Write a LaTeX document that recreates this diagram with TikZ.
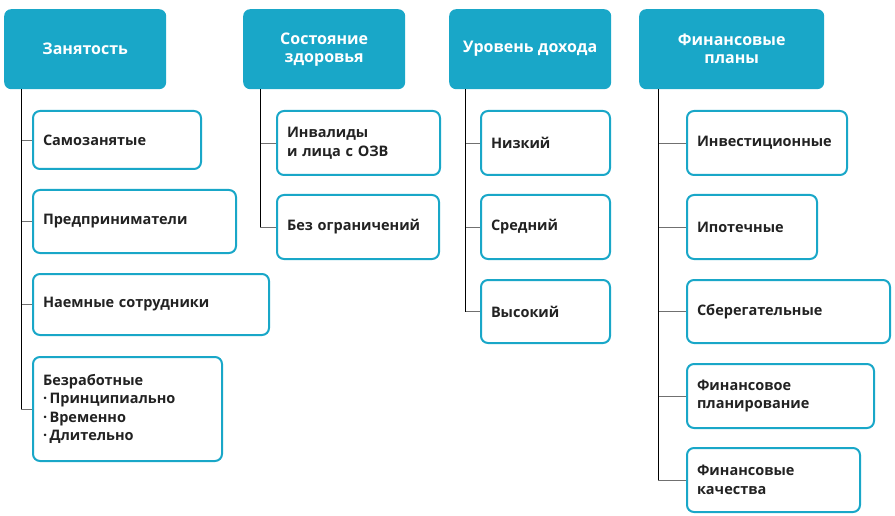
\documentclass[tikz,border=0pt]{standalone}
\usepackage{fontspec}
\setmainfont{Open Sans}
\definecolor{teal1}{HTML}{19A7C8}
\definecolor{txt}{HTML}{222222}
\definecolor{conn}{HTML}{707070}
\begin{document}
\begin{tikzpicture}[x=1pt,y=-1pt,
  hbox/.style={fill=teal1, rounded corners=7pt, anchor=north west, minimum height=80pt,
    text=white, font=\bfseries\fontsize{16}{18}\selectfont, align=center, inner sep=0pt},
  cbox/.style={draw=teal1, line width=2pt, fill=white, rounded corners=7pt, anchor=north west,
    text=txt, font=\bfseries\fontsize{14.5}{18.5}\selectfont, align=left, inner xsep=9pt, inner ysep=0pt},
  vline/.style={draw=black, line width=0.9pt},
  hline/.style={draw=conn, line width=0.9pt}]
\useasboundingbox (0,0) rectangle (895,516);
% headers
\node[hbox, minimum width=162pt] (h1) at (4,9) {Занятость};
\node[hbox, minimum width=162pt] (h2) at (243,9) {Состояние\\здоровья};
\node[hbox, minimum width=162pt] (h3) at (449,9) {Уровень дохода};
\node[hbox, minimum width=185pt] (h4) at (639,9) {Финансовые\\планы};
% column 1
\node[cbox, minimum width=168pt, minimum height=58pt, text width=148pt] (c11) at (32,110) {Самозанятые};
\node[cbox, minimum width=203pt, minimum height=63pt, text width=183pt] (c12) at (32,189) {Предприниматели};
\node[cbox, minimum width=236pt, minimum height=61pt, text width=216pt] (c13) at (32,273) {Наемные сотрудники};
\node[cbox, minimum width=189pt, minimum height=104pt, text width=169pt] (c14) at (32,356) {Безработные\\·\,Принципиально\\·\,Временно\\·\,Длительно};
% column 2
\node[cbox, minimum width=163pt, minimum height=64pt, text width=143pt] (c21) at (276,110) {Инвалиды\\и лица с ОЗВ};
\node[cbox, minimum width=162pt, minimum height=64pt, text width=142pt] (c22) at (276,194) {Без ограничений};
% column 3
\node[cbox, minimum width=129pt, minimum height=64pt, text width=109pt] (c31) at (480,110) {Низкий};
\node[cbox, minimum width=129pt, minimum height=64pt, text width=109pt] (c32) at (480,194) {Средний};
\node[cbox, minimum width=129pt, minimum height=63pt, text width=109pt] (c33) at (480,279) {Высокий};
% column 4
\node[cbox, minimum width=160pt, minimum height=64pt, text width=140pt] (c41) at (686,110) {Инвестиционные};
\node[cbox, minimum width=130pt, minimum height=64pt, text width=110pt] (c42) at (686,194) {Ипотечные};
\node[cbox, minimum width=203pt, minimum height=63pt, text width=183pt] (c43) at (686,279) {Сберегательные};
\node[cbox, minimum width=187pt, minimum height=64pt, text width=167pt] (c44) at (686,363) {Финансовое\\планирование};
\node[cbox, minimum width=173pt, minimum height=64pt, text width=153pt] (c45) at (686,447) {Финансовые\\качества};
% connector trunks
\coordinate (t1) at ([xshift=17pt]h1.south west);
\coordinate (t2) at ([xshift=17pt]h2.south west);
\coordinate (t3) at ([xshift=16pt]h3.south west);
\coordinate (t4) at ([xshift=19pt]h4.south west);
\foreach \c in {c11,c12,c13,c14} \draw[hline] (t1 |- \c.west) -- (\c.west);
\foreach \c in {c21,c22} \draw[hline] (t2 |- \c.west) -- (\c.west);
\foreach \c in {c31,c32,c33} \draw[hline] (t3 |- \c.west) -- (\c.west);
\foreach \c in {c41,c42,c43,c44,c45} \draw[hline] (t4 |- \c.west) -- (\c.west);
\draw[vline] (t1) -- (t1 |- c14.west);
\draw[vline] (t2) -- (t2 |- c22.west);
\draw[vline] (t3) -- (t3 |- c33.west);
\draw[vline] (t4) -- (t4 |- c45.west);
\end{tikzpicture}
\end{document}
